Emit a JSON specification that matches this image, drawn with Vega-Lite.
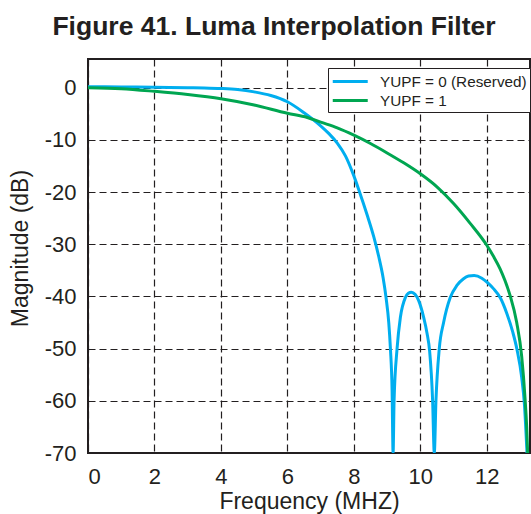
{
  "$schema": "https://vega.github.io/schema/vega-lite/v6.json",
  "width": 442,
  "height": 394,
  "autosize": {"type": "none"},
  "padding": {"left": 88, "top": 59, "right": 1, "bottom": 61},
  "title": {
    "text": "Figure 41. Luma Interpolation Filter",
    "font": "Liberation Sans",
    "fontSize": 26.5,
    "fontWeight": "bold",
    "color": "#231f20",
    "anchor": "middle",
    "baseline": "alphabetic",
    "dx": -35,
    "offset": -2
  },
  "data": {
    "values": [
      {"series": "YUPF = 0 (Reserved)", "f": 0, "db": 0.2},
      {"series": "YUPF = 0 (Reserved)", "f": 1, "db": 0.15},
      {"series": "YUPF = 0 (Reserved)", "f": 2, "db": 0.1},
      {"series": "YUPF = 0 (Reserved)", "f": 3, "db": 0.0},
      {"series": "YUPF = 0 (Reserved)", "f": 3.5, "db": -0.05},
      {"series": "YUPF = 0 (Reserved)", "f": 4, "db": -0.15},
      {"series": "YUPF = 0 (Reserved)", "f": 4.5, "db": -0.35},
      {"series": "YUPF = 0 (Reserved)", "f": 5, "db": -0.8},
      {"series": "YUPF = 0 (Reserved)", "f": 5.5, "db": -1.5},
      {"series": "YUPF = 0 (Reserved)", "f": 6, "db": -2.7},
      {"series": "YUPF = 0 (Reserved)", "f": 6.5, "db": -4.8},
      {"series": "YUPF = 0 (Reserved)", "f": 7, "db": -7.3},
      {"series": "YUPF = 0 (Reserved)", "f": 7.25, "db": -8.8},
      {"series": "YUPF = 0 (Reserved)", "f": 7.5, "db": -10.6},
      {"series": "YUPF = 0 (Reserved)", "f": 7.75, "db": -13.1},
      {"series": "YUPF = 0 (Reserved)", "f": 8, "db": -16.9},
      {"series": "YUPF = 0 (Reserved)", "f": 8.15, "db": -19.6},
      {"series": "YUPF = 0 (Reserved)", "f": 8.4, "db": -24.4},
      {"series": "YUPF = 0 (Reserved)", "f": 8.6, "db": -28.6},
      {"series": "YUPF = 0 (Reserved)", "f": 8.75, "db": -32.4},
      {"series": "YUPF = 0 (Reserved)", "f": 8.88, "db": -36.4},
      {"series": "YUPF = 0 (Reserved)", "f": 8.97, "db": -40.3},
      {"series": "YUPF = 0 (Reserved)", "f": 9.05, "db": -45},
      {"series": "YUPF = 0 (Reserved)", "f": 9.1, "db": -50},
      {"series": "YUPF = 0 (Reserved)", "f": 9.15, "db": -58},
      {"series": "YUPF = 0 (Reserved)", "f": 9.18, "db": -70},
      {"series": "YUPF = 0 (Reserved)", "f": 9.21, "db": -60},
      {"series": "YUPF = 0 (Reserved)", "f": 9.3, "db": -50},
      {"series": "YUPF = 0 (Reserved)", "f": 9.4, "db": -44},
      {"series": "YUPF = 0 (Reserved)", "f": 9.55, "db": -40.2},
      {"series": "YUPF = 0 (Reserved)", "f": 9.64, "db": -39.4},
      {"series": "YUPF = 0 (Reserved)", "f": 9.73, "db": -39.2},
      {"series": "YUPF = 0 (Reserved)", "f": 9.84, "db": -39.6},
      {"series": "YUPF = 0 (Reserved)", "f": 9.95, "db": -40.8},
      {"series": "YUPF = 0 (Reserved)", "f": 10.1, "db": -44},
      {"series": "YUPF = 0 (Reserved)", "f": 10.2, "db": -47},
      {"series": "YUPF = 0 (Reserved)", "f": 10.28, "db": -50.5},
      {"series": "YUPF = 0 (Reserved)", "f": 10.37, "db": -60},
      {"series": "YUPF = 0 (Reserved)", "f": 10.42, "db": -70},
      {"series": "YUPF = 0 (Reserved)", "f": 10.47, "db": -60},
      {"series": "YUPF = 0 (Reserved)", "f": 10.57, "db": -50},
      {"series": "YUPF = 0 (Reserved)", "f": 10.7, "db": -45},
      {"series": "YUPF = 0 (Reserved)", "f": 10.9, "db": -40.2},
      {"series": "YUPF = 0 (Reserved)", "f": 11.1, "db": -37.9},
      {"series": "YUPF = 0 (Reserved)", "f": 11.3, "db": -36.6},
      {"series": "YUPF = 0 (Reserved)", "f": 11.45, "db": -36.1},
      {"series": "YUPF = 0 (Reserved)", "f": 11.62, "db": -36.0},
      {"series": "YUPF = 0 (Reserved)", "f": 11.85, "db": -36.5},
      {"series": "YUPF = 0 (Reserved)", "f": 12.03, "db": -37.4},
      {"series": "YUPF = 0 (Reserved)", "f": 12.2, "db": -38.5},
      {"series": "YUPF = 0 (Reserved)", "f": 12.41, "db": -40.3},
      {"series": "YUPF = 0 (Reserved)", "f": 12.6, "db": -43.2},
      {"series": "YUPF = 0 (Reserved)", "f": 12.78, "db": -46.8},
      {"series": "YUPF = 0 (Reserved)", "f": 12.91, "db": -50.2},
      {"series": "YUPF = 0 (Reserved)", "f": 13.05, "db": -55.5},
      {"series": "YUPF = 0 (Reserved)", "f": 13.13, "db": -60.5},
      {"series": "YUPF = 0 (Reserved)", "f": 13.21, "db": -70},
      {"series": "YUPF = 1", "f": 0, "db": 0},
      {"series": "YUPF = 1", "f": 1, "db": -0.2},
      {"series": "YUPF = 1", "f": 2, "db": -0.7},
      {"series": "YUPF = 1", "f": 3, "db": -1.3},
      {"series": "YUPF = 1", "f": 4, "db": -2.1},
      {"series": "YUPF = 1", "f": 5, "db": -3.3},
      {"series": "YUPF = 1", "f": 6, "db": -4.9},
      {"series": "YUPF = 1", "f": 6.6, "db": -5.7},
      {"series": "YUPF = 1", "f": 7, "db": -6.6},
      {"series": "YUPF = 1", "f": 7.5, "db": -7.7},
      {"series": "YUPF = 1", "f": 8, "db": -9.1},
      {"series": "YUPF = 1", "f": 8.5, "db": -10.7},
      {"series": "YUPF = 1", "f": 9, "db": -12.5},
      {"series": "YUPF = 1", "f": 9.5, "db": -14.4},
      {"series": "YUPF = 1", "f": 10, "db": -16.5},
      {"series": "YUPF = 1", "f": 10.5, "db": -19},
      {"series": "YUPF = 1", "f": 11, "db": -22.2},
      {"series": "YUPF = 1", "f": 11.5, "db": -26},
      {"series": "YUPF = 1", "f": 12, "db": -30.2},
      {"series": "YUPF = 1", "f": 12.2, "db": -32.3},
      {"series": "YUPF = 1", "f": 12.4, "db": -34.7},
      {"series": "YUPF = 1", "f": 12.55, "db": -37},
      {"series": "YUPF = 1", "f": 12.7, "db": -39.8},
      {"series": "YUPF = 1", "f": 12.9, "db": -45},
      {"series": "YUPF = 1", "f": 13.05, "db": -51.5},
      {"series": "YUPF = 1", "f": 13.15, "db": -59.5},
      {"series": "YUPF = 1", "f": 13.2, "db": -65},
      {"series": "YUPF = 1", "f": 13.23, "db": -70}
    ]
  },
  "mark": {"type": "line", "strokeWidth": 3, "interpolate": "monotone", "clip": true},
  "encoding": {
    "x": {
      "field": "f",
      "type": "quantitative",
      "scale": {"domain": [0, 13.3], "nice": false, "zero": false},
      "axis": {
        "title": "Frequency (MHZ)",
        "values": [0, 2, 4, 6, 8, 10, 12],
        "labelPadding": 13,
        "titleBaseline": "alphabetic",
        "titleY": 55
      }
    },
    "y": {
      "field": "db",
      "type": "quantitative",
      "scale": {"domain": [-70, 5.5], "nice": false, "zero": false},
      "axis": {
        "title": "Magnitude (dB)",
        "values": [-70, -60, -50, -40, -30, -20, -10, 0],
        "labelExpr": "replace(datum.label, '\u2212', '-')",
        "labelPadding": 12,
        "titleBaseline": "alphabetic",
        "titleAngle": -90,
        "titleX": -61,
        "titleY": 189
      }
    },
    "color": {
      "field": "series",
      "type": "nominal",
      "scale": {"domain": ["YUPF = 0 (Reserved)", "YUPF = 1"], "range": ["#00aeef", "#00a651"]},
      "legend": {
        "title": null,
        "orient": "none",
        "legendX": 240,
        "legendY": 9,
        "fillColor": "#ffffff",
        "strokeColor": "#231f20",
        "padding": 3,
        "symbolType": "M-1,0H3",
        "symbolSize": 306,
        "symbolStrokeWidth": 3,
        "labelFont": "Liberation Sans",
        "labelFontSize": 15.3,
        "labelColor": "#231f20",
        "labelOffset": 28,
        "rowPadding": -2
      }
    }
  },
  "config": {
    "view": {"stroke": "#231f20", "strokeWidth": 2},
    "axis": {
      "domain": false,
      "ticks": false,
      "grid": true,
      "gridColor": "#231f20",
      "gridDash": [7, 4],
      "gridWidth": 1.2,
      "gridOpacity": 1,
      "labelFont": "Liberation Sans",
      "labelFontSize": 22,
      "labelColor": "#231f20",
      "titleFont": "Liberation Sans",
      "titleFontSize": 23,
      "titleFontWeight": "normal",
      "titleColor": "#231f20"
    }
  }
}
